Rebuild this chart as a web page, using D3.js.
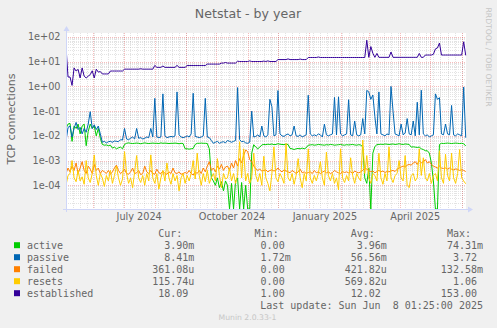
<!DOCTYPE html>
<html><head><meta charset="utf-8">
<script src="https://cdn.jsdelivr.net/npm/d3@7"></script>
<style>
html,body{margin:0;padding:0;background:#f0f0f0;}
svg{display:block;}
text{font-family:"DejaVu Sans",sans-serif;fill:#666;}
text.mono{font-family:"DejaVu Sans Mono",monospace;white-space:pre;}
</style></head><body>
<svg id="chart" width="497" height="328"></svg>
<script>
// Netstat TCP connection rates, one sample every second day
const seriesNames = ["active", "passive", "failed", "resets", "established"];
const seriesColors = ["#00cc00", "#0066b3", "#ff8000", "#ffcc00", "#330099"];
const firstDay = new Date(2024, 4, 5);
const dayStep = 2;

const active = [
  .02,.03,.032,.006,.025,.02,.03,.012,.025,.03,
  .004,.015,.03,.02,.025,.01,.02,.008,.0045,.0042,
  .0043,.004,.0042,.0032,.0035,.003,.0033,.0035,.003,.0045,
  .005,.0052,.005,.0049,.005,.0051,.005,.0048,.005,.0052,
  .005,.0049,.005,.0051,.005,.005,.0049,.0052,.005,.0051,
  .005,.0049,.005,.005,.0051,.005,.0048,.005,.0049,.003,
  .003,.0029,.003,.0031,.0045,.005,.005,.0051,.005,.005,
  .0049,.003,2e-4,1.5e-4,1e-4,2e-4,8e-5,1.4e-4,6e-5,1.5e-4,
  1e-4,0,1.2e-4,0,1.5e-4,2e-4,0,1.3e-4,0,1e-4,
  0,0,.002,.0044,.0035,.003,.0035,.0043,.0045,.0044,
  .0046,.0045,.0047,.0044,.0045,.0048,.0046,.0045,.0044,.0046,
  .0045,.0031,.003,.0028,.003,.0031,.003,.0032,.003,.0033,
  .0042,.0043,.0044,.0042,.0043,.0045,.0044,.0043,.0042,.0044,
  .0043,.0045,.0044,.0042,.0043,.0044,.0045,.0043,.0042,.0044,
  .0043,.0044,.0045,.0043,.0042,.0044,.0043,.0035,2e-4,1.2e-4,
  5e-4,0,.002,.0037,.0044,.0045,.0046,.0045,.0047,.0046,
  .0045,.0046,.0047,.0045,.0046,.0048,.0046,.0045,.0047,.0046,
  .0045,.0035,.0036,.0035,.0034,.0035,.003,.0028,.0025,.0025,
  .002,8e-4,1.5e-4,0,0,.0045,.005,.0049,.005,.0051,
  .005,.0049,.005,.0051,.005,.0049,.005,.0048,.0039
];

const passive = [
  .006,.022,.025,.009,.02,.035,.018,.022,.012,.02,
  .014,.03,.095,.02,.028,.018,.025,.012,.0055,.006,
  .0052,.0058,.006,.0055,.0062,.006,.0058,.007,.0068,.02,
  .0075,.007,.008,.009,.0075,.02,.008,.0085,.0075,.008,
  .009,.0085,.02,.009,.33,.009,.0085,.009,.5,.01,
  .0085,.009,.0095,.009,.01,.6,.011,.009,.0085,.009,
  .01,.009,.012,.53,.0095,.009,.0085,.009,.01,.33,
  .009,.0085,.0065,.005,.0055,.006,.005,.0055,.0058,.0052,
  .0065,.006,.0055,.006,.0065,.9,.007,.0058,.006,.0052,
  .005,.0055,.1,.009,.0095,.011,.009,.025,.01,.009,
  .011,.3,.15,.01,.011,.68,.012,.01,.0095,.011,
  .012,.01,.011,.025,.01,.0095,.011,.009,.01,.011,
  .44,.012,.01,.011,.01,.012,.011,.009,.03,.011,
  .01,.011,.012,.36,.011,.38,.012,.01,.011,.012,
  .29,.011,.01,.04,.011,.01,.011,.05,.012,.69,
  .6,.3,.45,.06,.012,.6,.012,.011,.01,.012,
  .011,1.0,.1,.012,.011,.01,.03,.011,.013,.05,
  .012,.011,.04,.01,.23,.011,.7,.012,.01,.011,
  .009,.01,.011,.5,.3,.35,.012,.011,.03,.012,
  .011,.17,.011,.01,.012,.011,.01,.95,.00841
];

const failed = [
  3e-4,5e-4,3.5e-4,6e-4,4e-4,8e-4,3e-4,5e-4,9e-4,4e-4,
  3e-4,6e-4,4.5e-4,3e-4,7e-4,4e-4,5e-4,3e-4,4e-4,3.5e-4,
  3e-4,4e-4,2.8e-4,3.5e-4,5e-4,6.5e-4,4e-4,3e-4,3.5e-4,4.5e-4,
  3e-4,2.8e-4,3.5e-4,5e-4,3e-4,3.2e-4,4e-4,2.7e-4,3e-4,6e-4,
  3.5e-4,3e-4,4e-4,3e-4,2.8e-4,4.5e-4,3.2e-4,3e-4,3.8e-4,3e-4,
  2.8e-4,3.5e-4,3e-4,5e-4,3.2e-4,3e-4,3.5e-4,2.8e-4,3e-4,3.3e-4,
  3e-4,4e-4,3e-4,2.6e-4,3.5e-4,3e-4,4e-4,3e-4,5e-4,3.5e-4,
  6e-4,9e-4,4e-4,5e-4,3.5e-4,6e-4,4.5e-4,7e-4,4e-4,5.5e-4,
  6e-4,4e-4,8e-4,5e-4,1e-3,6e-4,1.2e-3,8e-4,1.6e-3,2.7e-3,
  2.3e-3,1.1e-3,9e-4,6e-4,4.7e-4,4e-4,4.5e-4,3.8e-4,4e-4,4.2e-4,
  3.5e-4,4e-4,4.2e-4,3.8e-4,4e-4,5e-4,4e-4,3.5e-4,4.2e-4,3.8e-4,
  3.5e-4,3.2e-4,4e-4,3.5e-4,3e-4,3.5e-4,4.5e-4,3.2e-4,3.5e-4,3e-4,
  3.3e-4,3.5e-4,3e-4,4e-4,3.2e-4,3.5e-4,3e-4,3.4e-4,3.8e-4,3.2e-4,
  3.5e-4,3e-4,3.3e-4,4e-4,3.5e-4,3.2e-4,3e-4,3.6e-4,3.3e-4,3.5e-4,
  3.2e-4,3.5e-4,3e-4,3.8e-4,3.4e-4,3.2e-4,3.5e-4,4e-4,5e-4,4.5e-4,
  4e-4,3.5e-4,3.8e-4,3.2e-4,3.6e-4,4e-4,3.5e-4,3.8e-4,3.3e-4,3.6e-4,
  3.5e-4,3.8e-4,4e-4,3.6e-4,4.5e-4,5e-4,5.5e-4,6e-4,5.5e-4,6.5e-4,
  7e-4,6.5e-4,8e-4,9e-4,7e-4,1e-3,8e-4,9e-4,1.1e-3,8e-4,
  9e-4,7e-4,6e-4,5.5e-4,5e-4,6e-4,5e-4,4.8e-4,5e-4,4.5e-4,
  5e-4,4.5e-4,4.2e-4,4.6e-4,4.4e-4,4e-4,4.3e-4,4e-4,3.6108e-4
];

const resets = [
  1e-4,2.5e-4,3e-4,1e-3,2e-4,1.4e-4,4e-4,1.5e-4,2.2e-4,1.1e-4,
  1e-3,2e-4,1.3e-4,3e-4,1.7e-3,2.5e-4,1e-4,3e-4,2e-4,9e-5,
  2.5e-4,1.5e-4,4e-4,1.2e-4,2.5e-4,6e-4,2e-4,1e-4,1.8e-4,2.3e-3,
  3e-4,1.2e-4,2e-4,8e-5,3.5e-4,1.6e-3,2e-4,1.3e-4,2.5e-4,1e-4,
  3e-4,1.5e-4,1.7e-3,2e-4,1.2e-4,3e-4,7e-5,2e-4,4e-4,1.5e-4,
  8e-4,2e-4,1.1e-4,3e-4,1.5e-4,2.5e-4,6e-5,2e-4,3e-4,1.2e-4,
  2.5e-4,1.5e-4,3e-4,1e-3,1.8e-4,2e-3,2.5e-4,1e-4,3e-4,1.4e-4,
  4e-4,1.2e-4,2e-4,3e-4,1.5e-4,1.2e-3,2.5e-4,8e-5,3e-4,1.8e-4,
  2e-4,5e-4,1.5e-4,3e-4,1.2e-4,2.5e-4,5.8e-3,2e-4,3e-3,1.5e-4,
  3e-4,1.2e-4,2e-4,2e-3,2.5e-4,1.4e-4,3e-4,1e-4,1.5e-3,2e-4,
  1.2e-4,6e-5,3e-4,3.6e-3,2e-4,1.4e-4,3e-4,2e-4,1.2e-4,5e-3,
  2e-4,1.5e-4,3e-4,1.1e-4,2.5e-4,1.2e-3,2e-4,8e-5,3e-4,1.5e-4,
  3e-3,2e-4,1.2e-4,2.5e-4,1.5e-4,3e-4,9e-4,2e-4,1e-4,2.2e-3,
  2.5e-4,1.5e-4,3e-4,1.2e-4,2e-4,6.5e-5,3e-3,2e-4,1.3e-4,2.5e-4,
  1.5e-4,1.3e-3,2.5e-4,1.2e-4,3e-4,2e-4,1.5e-4,6.8e-3,3e-4,1.6e-3,
  2e-4,1.2e-4,3e-4,2.5e-4,1.5e-4,2e-3,2e-4,1.1e-4,3e-4,1.5e-4,
  3.6e-3,2e-4,1.3e-4,2.5e-4,3e-4,1e-3,2e-4,1.5e-4,1.6e-3,1e-4,
  8e-5,2.5e-4,3e-4,1.5e-4,2e-4,3e-3,2.5e-4,1.3e-3,2e-4,1.5e-4,
  3e-4,1.2e-4,2.5e-4,3e-4,1.5e-4,2.5e-3,2e-4,1.2e-4,1.8e-3,2.5e-4,
  1.5e-4,2e-3,2e-4,1.2e-4,3e-4,2.8e-3,2e-4,1.5e-4,1.1574e-4
];

const established = [
  40,2.4,2.4,1.1,5.6,4.2,4.9,2.2,5.6,2.6,
  2.2,2.6,3.0,4.3,2.2,5.0,3.8,4.0,3.2,3.2,
  3.2,3.2,4.2,4.2,4.2,4.2,4.2,4.2,4.2,5.0,
  5.0,5.0,5.0,5.0,5.0,5.0,5.0,5.2,5.0,5.0,
  5.0,5.0,5.0,5.0,7.1,5.9,5.9,5.9,6.7,5.9,
  5.9,5.9,5.9,5.9,5.9,7.1,5.9,5.9,5.9,5.9,
  7.0,7.0,7.0,7.0,7.0,7.0,7.0,7.0,7.0,7.0,
  8.0,8.0,8.0,8.0,8.0,8.0,8.0,8.8,8.8,9.3,
  8.8,8.8,8.8,8.8,8.8,10.5,10.2,10.2,10.2,10.2,
  10.2,10.8,10.2,10.2,10.2,10.2,10.2,10.2,10.6,10.2,
  10.8,10.2,10.2,10.2,10.2,12.2,12.2,12.2,12.2,12.2,
  13.0,12.2,12.2,12.2,12.2,12.2,12.8,12.2,12.2,12.2,
  14.8,14.8,14.8,14.8,14.8,15.5,14.8,14.8,14.8,14.8,
  14.8,14.8,14.8,14.8,14.8,14.8,14.8,14.8,14.8,14.8,
  14.8,14.8,14.8,14.8,14.8,14.8,14.8,14.8,14.8,74,
  15,41,22,15,21.6,15,15,15,15,15,
  15,24.7,15,15,15,15,15,15,15,15,
  15,15,15,15,15,21.6,15,15,18.6,18.6,
  18.6,18.6,20,33,36,57,18.6,18.6,18.6,18.6,
  18.6,18.6,18.6,18.6,18.6,18.6,18.6,64,18.09
];

const seriesValues = [active, passive, failed, resets, established];
const minValues = [0, 0.00172, 0, 0, 1.0];
const avgValues = [0.00396, 0.05656, 0.00042182, 0.00056982, 12.02];
const maxValues = [0.07431, 3.72, 0.13258, 1.06, 153.0];

const yTickValues = [1e2, 1e1, 1e0, 1e-1, 1e-2, 1e-3, 1e-4];
const yTickLabels = ["1e+02", "1e+01", "1e+00", "1e-01", "1e-02", "1e-03", "1e-04"];
const monthLabels = ["July 2024", "October 2024", "January 2025", "April 2025"];
const monthLabelStarts = [new Date(2024, 6, 1), new Date(2024, 9, 1), new Date(2025, 0, 1), new Date(2025, 3, 1)];

const titleText = "Netstat - by year";
const unitText = "TCP connections";
const lastUpdateText = "Last update: Sun Jun  8 01:25:00 2025";

// ---- layout ----
const svg = d3.select("#chart");
const plot = {left: 66, right: 466, top: 33, bottom: 209};
const gridGrey = "rgba(128,128,128,0.22)";
const gridRed = "rgba(230,70,70,0.36)";
const axisColor = "#cfd6f8";

const x = d3.scaleTime()
  .domain([firstDay, new Date(2025, 5, 5, 7)])
  .range([plot.left, plot.right]);
const y = d3.scaleLog()
  .domain([1.1e-5, 145])
  .range([plot.bottom, plot.top])
  .clamp(true);

const dates = d3.range(active.length).map(i => d3.timeDay.offset(firstDay, i * dayStep));

// canvas
svg.append("rect").attr("x", plot.left).attr("y", plot.top)
  .attr("width", plot.right - plot.left).attr("height", plot.bottom - plot.top)
  .attr("fill", "#ffffff");

svg.append("defs").append("clipPath").attr("id", "plotclip")
  .append("rect").attr("x", plot.left).attr("y", plot.top - 1)
  .attr("width", plot.right - plot.left + 1).attr("height", plot.bottom - plot.top + 1);

const grid = svg.append("g").attr("stroke-width", 1).attr("stroke-dasharray", "1,1").attr("fill", "none");
const px = v => Math.round(v) + 0.5;

// horizontal grid: minor at 2..9, major at each decade
const [yLo, yHi] = y.domain();
for (let e = -5; e <= 2; e++) {
  for (let k = 1; k <= 9; k++) {
    const v = k * Math.pow(10, e);
    if (v < yLo || v > yHi) continue;
    grid.append("line")
      .attr("x1", plot.left).attr("x2", plot.right)
      .attr("y1", px(y(v))).attr("y2", px(y(v)))
      .attr("stroke", k === 1 ? gridRed : gridGrey);
  }
}
// vertical grid: weeks and months
d3.timeSunday.range(x.domain()[0], x.domain()[1]).forEach(d => {
  grid.append("line").attr("x1", px(x(d))).attr("x2", px(x(d)))
    .attr("y1", plot.top).attr("y2", plot.bottom).attr("stroke", gridGrey);
});
d3.timeMonth.range(x.domain()[0], x.domain()[1]).forEach(d => {
  grid.append("line").attr("x1", px(x(d))).attr("x2", px(x(d)))
    .attr("y1", plot.top).attr("y2", plot.bottom).attr("stroke", gridRed);
});

// series lines
const lineGen = d3.line().x(d => x(d[0])).y(d => y(d[1]));
const lines = svg.append("g").attr("clip-path", "url(#plotclip)");
seriesValues.forEach((vals, s) => {
  lines.append("path")
    .datum(vals.map((v, i) => [dates[i], v]))
    .attr("d", lineGen)
    .attr("fill", "none")
    .attr("stroke", seriesColors[s])
    .attr("stroke-width", 1)
    .attr("stroke-linejoin", "round");
});

// axes
const axes = svg.append("g");
axes.append("line").attr("x1", plot.left - 3).attr("x2", plot.right + 3)
  .attr("y1", plot.bottom + 0.5).attr("y2", plot.bottom + 0.5).attr("stroke", axisColor);
axes.append("path")
  .attr("d", `M${plot.right + 2},${plot.bottom - 2.5}L${plot.right + 7},${plot.bottom + 0.5}L${plot.right + 2},${plot.bottom + 3.5}Z`)
  .attr("fill", axisColor);
axes.append("line").attr("x1", plot.left + 0.5).attr("x2", plot.left + 0.5)
  .attr("y1", plot.bottom + 3).attr("y2", plot.top - 3).attr("stroke", axisColor);
axes.append("path")
  .attr("d", `M${plot.left - 2.5},${plot.top - 2}L${plot.left + 0.5},${plot.top - 7}L${plot.left + 3.5},${plot.top - 2}Z`)
  .attr("fill", axisColor);

// y tick labels
yTickValues.forEach((v, i) => {
  svg.append("text").attr("x", 60.5).attr("y", y(v) + 3.5)
    .attr("text-anchor", "end").attr("font-size", 9.7).text(yTickLabels[i]);
});
// x labels centred in their month
monthLabels.forEach((lab, i) => {
  const a = monthLabelStarts[i], b = d3.timeMonth.offset(a, 1);
  svg.append("text").attr("x", (x(a) + x(b)) / 2).attr("y", 219.6)
    .attr("text-anchor", "middle").attr("font-size", 9.7).text(lab);
});

// title, unit, watermarks
svg.append("text").attr("x", 248).attr("y", 18).attr("text-anchor", "middle")
  .attr("font-size", 12.6).text(titleText);
svg.append("text").attr("transform", "translate(15,119) rotate(-90)")
  .attr("text-anchor", "middle").attr("font-size", 11.1).text(unitText);
svg.append("text").attr("transform", "translate(485.7,57) rotate(90)")
  .attr("text-anchor", "middle").attr("font-size", 7.7).style("fill", "#c6c6c6")
  .text("RRDTOOL / TOBI OETIKER");
svg.append("text").attr("x", 247.5).attr("y", 319.5).attr("text-anchor", "middle")
  .attr("font-size", 7.7).style("fill", "#c6c6c6").text("Munin 2.0.33-1");

// legend
const charW = 6.02;
const colRight = [194.4, 290.7, 386.8, 483];
const headers = ["Cur:", "Min:", "Avg:", "Max:"];
function fmt(v) {
  let s = "", n = v;
  if (v !== 0 && Math.abs(v) < 1e-3) { n = v * 1e6; s = "u"; }
  else if (v !== 0 && Math.abs(v) < 1) { n = v * 1e3; s = "m"; }
  return {text: n.toFixed(2) + s, suffix: s !== ""};
}
const legend = svg.append("g");
headers.forEach((h, c) => {
  legend.append("text").attr("class", "mono").attr("x", colRight[c] - 6 * charW).attr("y", 237.3)
    .attr("font-size", 10).text(h);
});
seriesNames.forEach((name, s) => {
  const base = 249.2 + 12 * s;
  legend.append("rect").attr("x", 14).attr("y", base - 7).attr("width", 6).attr("height", 6)
    .attr("fill", seriesColors[s]);
  legend.append("text").attr("class", "mono").attr("x", 27).attr("y", base)
    .attr("font-size", 10).text(name);
  const vals = seriesValues[s];
  const stats = [vals[vals.length - 1], minValues[s], avgValues[s], maxValues[s]];
  stats.forEach((v, c) => {
    const f = fmt(v);
    legend.append("text").attr("class", "mono")
      .attr("x", colRight[c] - (f.suffix ? 0 : charW)).attr("y", base)
      .attr("text-anchor", "end").attr("font-size", 10).text(f.text);
  });
});
legend.append("text").attr("class", "mono").attr("x", colRight[3]).attr("y", 309.2)
  .attr("text-anchor", "end").attr("font-size", 10).text(lastUpdateText);
</script>
</body></html>
